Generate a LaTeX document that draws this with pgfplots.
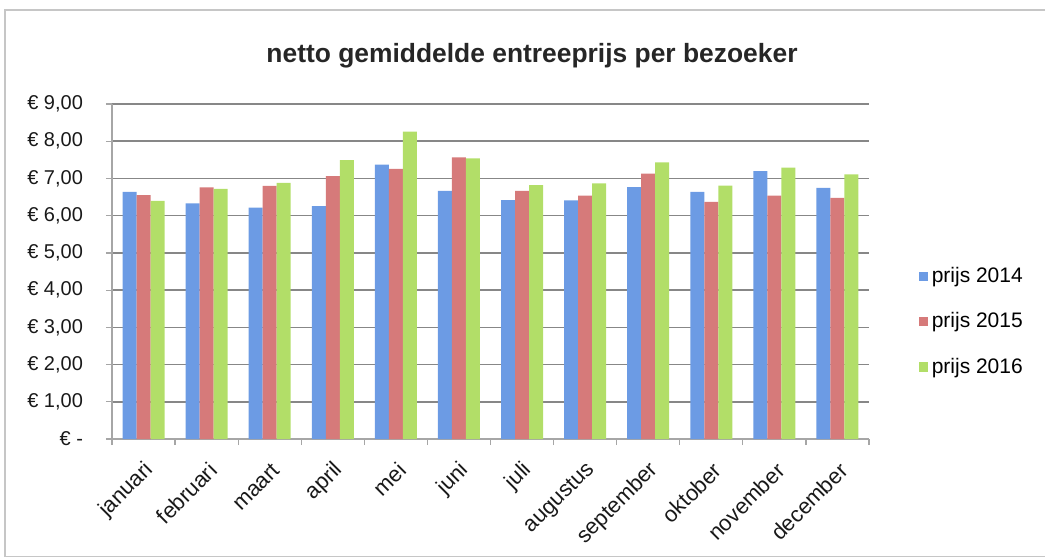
\documentclass[border=0pt]{standalone}
\usepackage{pgfplots}
\pgfplotsset{compat=1.18}
\usepackage{fontspec}
\setmainfont{Liberation Sans}
\definecolor{c14}{RGB}{108,155,228}
\definecolor{c15}{RGB}{214,122,122}
\definecolor{c16}{RGB}{178,222,104}
\definecolor{gridc}{RGB}{135,135,135}
\begin{document}
\begin{tikzpicture}
\useasboundingbox (0,0) rectangle (525pt,279.5pt);
\draw[gray!45, line width=0.6pt] (522.5pt,274.5pt) -- (2.5pt,274.5pt) -- (2.5pt,1.2pt) -- (522.5pt,1.2pt);
\node[anchor=base, font=\fontsize{13.2}{15}\selectfont\bfseries, text=black!85] at (266pt,248.5pt) {netto gemiddelde entreeprijs per bezoeker};
\begin{axis}[
  at={(56pt,60pt)}, anchor=south west,
  width=378.5pt, height=167.5pt, scale only axis,
  ybar=0pt, bar width=7pt,
  xmin=-0.5, xmax=11.5, ymin=0, ymax=9,
  axis lines=left, axis line style={-, draw=gray!70, line width=0.6pt},
  xtick={0,...,11},
  xticklabels={januari,februari,maart,april,mei,juni,juli,augustus,september,oktober,november,december},
  x tick style={draw=none},
  minor xtick={-0.5,0.5,...,11.5},
  minor x tick style={draw=gray!70, line width=0.6pt},
  minor tick length=3pt,
  ytick={0,1,...,9},
  yticklabels={€ -,€ 1{,}00,€ 2{,}00,€ 3{,}00,€ 4{,}00,€ 5{,}00,€ 6{,}00,€ 7{,}00,€ 8{,}00,€ 9{,}00},
  y tick style={draw=gray!70, line width=0.6pt},
  tick align=outside, major tick length=3pt,
  ymajorgrids, grid style={gridc, line width=0.8pt},
  yticklabel style={font=\fontsize{10}{12}\selectfont, text=black!90, xshift=-8pt},
  xticklabel style={font=\fontsize{11}{13}\selectfont, text=black!90, rotate=45, anchor=east, yshift=-10pt, xshift=-2pt},
  legend style={at={(1.057,0.35)}, anchor=west, draw=none, fill=none,
    font=\fontsize{10.5}{12}\selectfont, row sep=9.5pt,
    legend cell align=left},
  legend image code/.code={\fill[#1] (0pt,-2.3pt) rectangle (4.6pt,2.3pt);},
]
\addplot[fill=c14, draw=none] coordinates {(0,6.64) (1,6.33) (2,6.22) (3,6.26) (4,7.37) (5,6.67) (6,6.42) (7,6.41) (8,6.77) (9,6.64) (10,7.20) (11,6.75)};
\addplot[fill=c15, draw=none] coordinates {(0,6.55) (1,6.76) (2,6.80) (3,7.06) (4,7.26) (5,7.57) (6,6.67) (7,6.54) (8,7.13) (9,6.37) (10,6.54) (11,6.48)};
\addplot[fill=c16, draw=none] coordinates {(0,6.40) (1,6.72) (2,6.88) (3,7.49) (4,8.26) (5,7.54) (6,6.82) (7,6.87) (8,7.43) (9,6.81) (10,7.29) (11,7.11)};
\legend{prijs 2014,prijs 2015,prijs 2016}
\end{axis}
\end{tikzpicture}
\end{document}
